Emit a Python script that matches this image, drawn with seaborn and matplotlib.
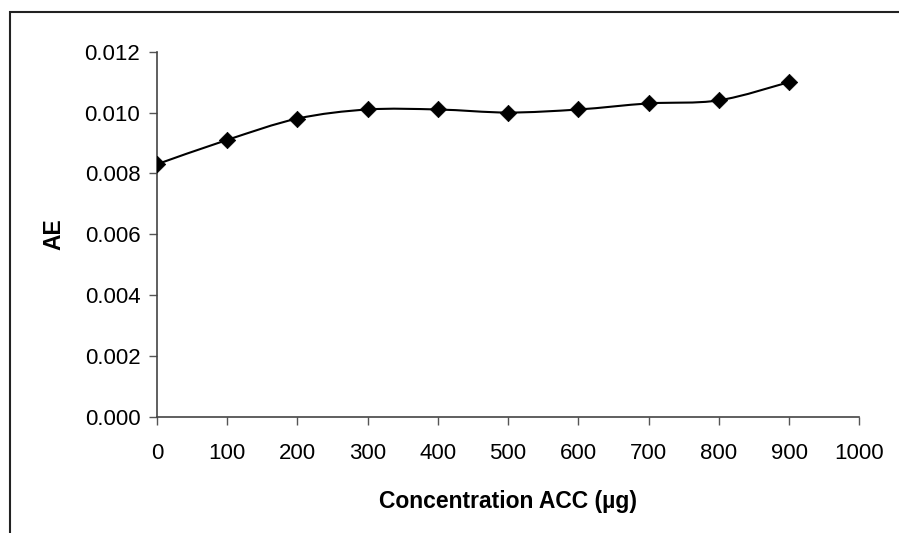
import matplotlib
matplotlib.use("Agg")
import matplotlib.pyplot as plt
import seaborn as sns
import numpy as np
from matplotlib.path import Path
from matplotlib.patches import PathPatch, Rectangle
from matplotlib.ticker import FormatStrFormatter

# data
concentration = [0, 100, 200, 300, 400, 500, 600, 700, 800, 900]
ae_values = [0.0083, 0.0091, 0.0098, 0.0101, 0.0101, 0.0100, 0.0101, 0.0103, 0.0104, 0.0110]
x_ticks = [0, 100, 200, 300, 400, 500, 600, 700, 800, 900, 1000]
y_ticks = [0.000, 0.002, 0.004, 0.006, 0.008, 0.010, 0.012]


def smooth_path(xs, ys):
    # excel-like smoothed line: cubic bezier through every point
    pts = np.column_stack([xs, ys]).astype(float)
    n = len(pts)
    verts = [pts[0]]
    codes = [Path.MOVETO]
    for i in range(n - 1):
        p0 = pts[i - 1] if i > 0 else pts[i]
        p3 = pts[i + 2] if i + 2 < n else pts[i + 1]
        c1 = pts[i] + (pts[i + 1] - p0) / 6
        c2 = pts[i + 1] - (p3 - pts[i]) / 6
        verts += [c1, c2, pts[i + 1]]
        codes += [Path.CURVE4] * 3
    return Path(verts, codes)


sns.set_theme(style="white")
plt.rcParams["font.family"] = ["Liberation Sans", "DejaVu Sans"]
plt.rcParams["text.color"] = "black"
plt.rcParams["axes.labelcolor"] = "black"

fig = plt.figure(figsize=(8.99, 5.33), dpi=100)
ax = fig.add_axes([0.1746, 0.2182, 0.9558 - 0.1746, 0.903 - 0.2182])

ax.add_patch(PathPatch(smooth_path(concentration, ae_values), fill=False,
                       edgecolor="black", linewidth=1.5, zorder=2))
sns.scatterplot(x=concentration, y=ae_values, marker="D", s=70, color="black",
                edgecolor="black", linewidth=0.5, ax=ax, zorder=3)

ax.set_xlim(0, 1000)
ax.set_ylim(0, 0.012)
ax.set_xticks(x_ticks)
ax.set_yticks(y_ticks)
ax.yaxis.set_major_formatter(FormatStrFormatter("%.3f"))
ax.tick_params(axis="both", which="major", direction="out", length=6, width=1,
               color="#555555", labelsize=16, labelcolor="black", pad=6,
               bottom=True, left=True)
ax.tick_params(axis="x", pad=13)

for side in ["top", "right"]:
    ax.spines[side].set_visible(False)
for side in ["left", "bottom"]:
    ax.spines[side].set_color("#444444")
    ax.spines[side].set_linewidth(1.2)

ax.set_xlabel("Concentration ACC (µg)", fontsize=16.5, fontweight="bold", labelpad=19)
ax.set_ylabel("AE", fontsize=16.5, fontweight="bold", labelpad=14)

# outer chart frame (cut off at right and bottom like the reference)
frame = Rectangle((10 / 899, -0.1), 1.2, 1 - 11.7 / 533 + 0.1, transform=fig.transFigure,
                  fill=False, edgecolor="#222222", linewidth=1.5, clip_on=False)
fig.add_artist(frame)

fig.savefig("out.png", dpi=100)
